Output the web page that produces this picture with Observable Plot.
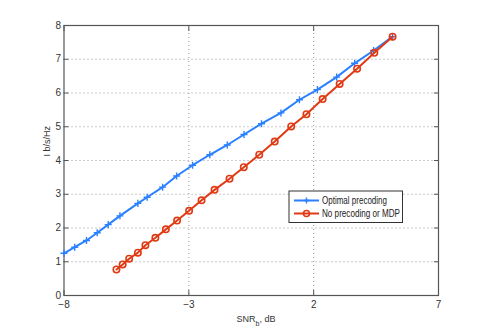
<!DOCTYPE html>
<html>
<head>
<meta charset="utf-8">
<script src="https://cdn.jsdelivr.net/npm/d3@7"></script>
<script src="https://cdn.jsdelivr.net/npm/@observablehq/plot@0.6"></script>
<style>
  html, body { margin: 0; padding: 0; background: #fff; }
  svg { font-family: "Liberation Sans", Arial, sans-serif; }
</style>
</head>
<body>
<div id="chart"></div>
<script>
// Optimal precoding
const optSnr = [-8, -7.57, -7.1, -6.67, -6.23, -5.76, -5.04, -4.67, -4.05, -3.49, -2.85, -2.16, -1.46, -0.79, -0.09, 0.69, 1.43, 2.15, 2.92, 3.64, 4.40, 5.16];
const optRate = [1.25, 1.43, 1.63, 1.86, 2.10, 2.36, 2.73, 2.91, 3.21, 3.54, 3.86, 4.17, 4.46, 4.77, 5.09, 5.41, 5.80, 6.10, 6.47, 6.88, 7.26, 7.67];
// No precoding or MDP
const noSnr = [-5.9, -5.65, -5.39, -5.04, -4.74, -4.34, -3.92, -3.47, -2.99, -2.49, -1.97, -1.37, -0.8, -0.18, 0.44, 1.1, 1.71, 2.36, 3.04, 3.74, 4.43, 5.16];
const noRate = [0.77, 0.92, 1.09, 1.27, 1.49, 1.71, 1.96, 2.22, 2.51, 2.82, 3.13, 3.46, 3.80, 4.17, 4.56, 5.01, 5.37, 5.82, 6.27, 6.72, 7.19, 7.67];

const xTicks = [-8, -3, 2, 7];
const yTicks = [0, 1, 2, 3, 4, 5, 6, 7, 8];
const seriesNames = ["Optimal precoding", "No precoding or MDP"];
const yLabel = "I b/s/Hz";

const blue = "#2a80ff";
const red = "#e03a14";

const opt = optSnr.map((x, i) => ({x, y: optRate[i]}));
const nop = noSnr.map((x, i) => ({x, y: noRate[i]}));

const mL = 63.5, mR = 47, mT = 25, mB = 37;
const W = 485, H = 332;

const plot = Plot.plot({
  width: W,
  height: H,
  marginLeft: mL,
  marginRight: mR,
  marginTop: mT,
  marginBottom: mB,
  style: {fontFamily: "Liberation Sans, Arial, sans-serif", fontSize: "10px", background: "#fff", color: "#333"},
  x: {domain: [-8, 7]},
  y: {domain: [0, 8]},
  marks: [
    Plot.gridX(xTicks.slice(1, -1), {stroke: "#999", strokeOpacity: 1, strokeDasharray: "1,3"}),
    Plot.gridY(yTicks.slice(1, -1), {stroke: "#999", strokeOpacity: 1, strokeDasharray: "1,3"}),
    Plot.axisX({ticks: xTicks, tickSize: -5, tickPadding: 10, label: null, stroke: "#555", fill: "#333"}),
    Plot.axisX({ticks: xTicks, anchor: "top", tickSize: -5, tickFormat: () => "", label: null, stroke: "#555"}),
    Plot.axisY({ticks: yTicks, tickSize: -5, tickPadding: 8, label: null, stroke: "#555", fill: "#333"}),
    Plot.axisY({ticks: yTicks, anchor: "right", tickSize: -5, tickFormat: () => "", label: null, stroke: "#555"}),
    Plot.frame({stroke: "#555", strokeWidth: 1.2}),
    Plot.line(opt, {x: "x", y: "y", stroke: blue, strokeWidth: 2}),
    Plot.dot(opt, {x: "x", y: "y", symbol: "plus", stroke: blue, strokeWidth: 1.4, r: 2.4}),
    Plot.line(nop, {x: "x", y: "y", stroke: red, strokeWidth: 2}),
    Plot.dot(nop, {x: "x", y: "y", symbol: "circle", stroke: red, strokeWidth: 1.6, r: 3.2, fill: "none"}),
    Plot.text([yLabel], {frameAnchor: "left", dx: -17, dy: -4, rotate: -90, fontSize: 9, fill: "#333"})
  ]
});

const svg = d3.select(plot);
// x label with subscript
const xl = svg.append("text")
  .attr("x", 256).attr("y", 322)
  .attr("text-anchor", "middle")
  .attr("font-size", 9).attr("fill", "#333");
xl.append("tspan").text("SNR");
xl.append("tspan").attr("font-size", 7).attr("dy", 4).text("b");
xl.append("tspan").attr("dy", -4).text(", dB");

// legend
const lg = svg.append("g").attr("transform", "translate(289,191)");
lg.append("rect").attr("width", 113.5).attr("height", 31.5)
  .attr("fill", "#fff").attr("stroke", "#333").attr("stroke-width", 1);
const colors = [blue, red];
const textLens = [65, 78];
seriesNames.forEach((name, i) => {
  const yy = 9.5 + i * 13;
  lg.append("line").attr("x1", 5).attr("x2", 30).attr("y1", yy).attr("y2", yy)
    .attr("stroke", colors[i]).attr("stroke-width", 2);
  if (i === 0) {
    lg.append("path").attr("d", `M17.5,${yy-3}V${yy+3}M14.5,${yy}H20.5`)
      .attr("stroke", colors[i]).attr("stroke-width", 1.4);
  } else {
    lg.append("circle").attr("cx", 17.5).attr("cy", yy).attr("r", 3)
      .attr("fill", "none").attr("stroke", colors[i]).attr("stroke-width", 1.6);
  }
  lg.append("text").attr("x", 33).attr("y", yy).attr("dy", "0.35em")
    .attr("text-anchor", "start")
    .attr("textLength", textLens[i]).attr("lengthAdjust", "spacingAndGlyphs")
    .attr("font-size", 10).attr("fill", "#222").text(name);
});

document.getElementById("chart").appendChild(plot);
</script>
</body>
</html>
